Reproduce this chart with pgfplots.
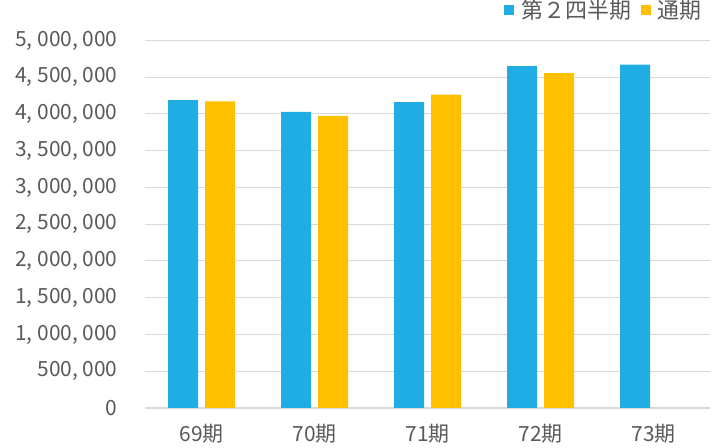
\documentclass[border=0pt]{standalone}
\usepackage{fontspec}
\setmainfont{Noto Sans CJK JP}
\usepackage{pgfplots}
\pgfplotsset{compat=1.18}
\definecolor{cblue}{HTML}{1FADE3}
\definecolor{cyel}{HTML}{FFC000}
\definecolor{ctext}{HTML}{595959}
\definecolor{cgrid}{HTML}{D9D9D9}
\begin{document}
\begin{tikzpicture}[x=1bp,y=1bp]
\useasboundingbox (0,0) rectangle (720,448);
\begin{axis}[
  at={(145bp,40bp)}, anchor=south west,
  scale only axis, width=565bp, height=367.5bp,
  xmin=-0.5, xmax=4.5, ymin=0, ymax=5000000,
  ybar=7bp, bar width=30bp,
  xtick={0,...,4}, xticklabels={69期,70期,71期,72期,73期},
  ytick={0,500000,...,5000000},
  scaled y ticks=false,
  ymajorgrids, grid style={cgrid, line width=1bp},
  axis x line*=bottom, axis y line*=left,
  y axis line style={draw=none},
  x axis line style={cgrid, line width=1.2bp},
  major tick length=0, tick style={draw=none},
  ticklabel style={font=\fontsize{21}{23}\selectfont, text=ctext},
  yticklabel style={xshift=-24bp, /pgf/number format/.cd, fixed, 1000 sep={,\hspace{0.22em}}, assume math mode=true},
  xticklabel style={yshift=-13bp},
  legend style={at={(rel axis cs:1,1)}, anchor=south east, xshift=-6bp, yshift=18bp,
    draw=none, fill=none, legend columns=-1, font=\fontsize{22}{24}\selectfont, text=ctext,
    inner sep=0pt,
    /tikz/every odd column/.append style={column sep=5bp},
    /tikz/every even column/.append style={column sep=8bp}},
  legend image code/.code={\fill[#1] (0bp,-5bp) rectangle (10bp,5bp);},
]
\addplot[fill=cblue, draw=none] coordinates {(0,4190000) (1,4030000) (2,4160000) (3,4650000) (4,4670000)};
\addplot[fill=cyel, draw=none] coordinates {(0,4170000) (1,3975000) (2,4265000) (3,4555000)};
\legend{第２四半期,通期}
\end{axis}
\end{tikzpicture}
\end{document}
